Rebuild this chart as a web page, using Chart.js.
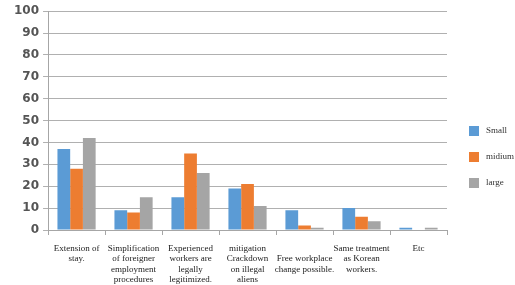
<!DOCTYPE html>
<html>
<head>
<meta charset="utf-8">
<script src="https://cdn.jsdelivr.net/npm/chart.js@4"></script>
<style>
  html, body { margin: 0; padding: 0; background: #fff; }
  #wrap { width: 515px; height: 285px; }
</style>
</head>
<body>
<div id="wrap"><canvas id="chart" width="515" height="285"></canvas></div>
<script>
// Catégories (libellés sur plusieurs lignes)
const categories = [
    ['Extension of', 'stay.'],
    ['Simplification', 'of foreigner', 'employment', 'procedures'],
    ['Experienced', 'workers are', 'legally', 'legitimized.'],
    ['mitigation', 'Crackdown', 'on illegal', 'aliens'],
    ['', 'Free workplace', 'change possible.'],
    ['Same treatment', 'as Korean', 'workers.'],
    ['Etc']
];

const seriesNames = ['Small', 'midium', 'large'];
const smallValues = [37, 9, 15, 19, 9, 10, 1];
const midiumValues = [28, 8, 35, 21, 2, 6, 0];
const largeValues = [42, 15, 26, 11, 1, 4, 1];
const yTicks = [0, 10, 20, 30, 40, 50, 60, 70, 80, 90, 100];

const colors = ['#5B9BD5', '#ED7D31', '#A5A5A5'];

// Légende dessinée à droite
const sideLegend = {
    id: 'sideLegend',
    afterDraw(chart) {
        const ctx = chart.ctx;
        ctx.save();
        ctx.font = '9px "Liberation Serif"';
        ctx.textBaseline = 'middle';
        chart.data.datasets.forEach((ds, i) => {
            const y = 131 + i * 26;
            ctx.fillStyle = ds.backgroundColor;
            ctx.fillRect(469, y - 5, 10, 10);
            ctx.fillStyle = '#333';
            ctx.fillText(ds.label, 486, y);
        });
        ctx.restore();
    }
};

new Chart(document.getElementById('chart'), {
    type: 'bar',
    data: {
        labels: categories,
        datasets: [
            { label: seriesNames[0], data: smallValues, backgroundColor: colors[0] },
            { label: seriesNames[1], data: midiumValues, backgroundColor: colors[1] },
            { label: seriesNames[2], data: largeValues, backgroundColor: colors[2] }
        ]
    },
    options: {
        responsive: false,
        animation: false,
        layout: { padding: { left: 10, right: 68, top: 7, bottom: 0 } },
        datasets: { bar: { categoryPercentage: 0.67, barPercentage: 1.0 } },
        plugins: { legend: { display: false }, tooltip: { enabled: false } },
        scales: {
            x: {
                afterFit: (scale) => { scale.height = 55; },
                grid: { offset: true, drawOnChartArea: false, color: '#a6a6a6', tickLength: 5 },
                border: { color: '#a6a6a6' },
                ticks: {
                    autoSkip: false, maxRotation: 0, minRotation: 0,
                    color: '#222', padding: 9,
                    font: { family: 'Liberation Serif', size: 9, lineHeight: 1.12 }
                }
            },
            y: {
                min: 0, max: 100,
                afterBuildTicks: (axis) => { axis.ticks = yTicks.map(v => ({ value: v })); },
                grid: { color: '#b0b0b0', tickLength: 5 },
                border: { color: '#a6a6a6' },
                ticks: {
                    color: '#555', padding: 4,
                    font: { family: 'DejaVu Sans', size: 12, weight: 'bold' }
                }
            }
        }
    },
    plugins: [sideLegend]
});
</script>
</body>
</html>
